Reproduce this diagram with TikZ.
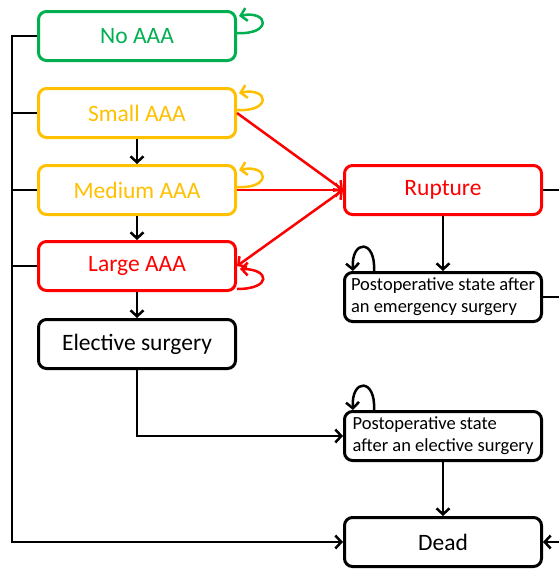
\documentclass[tikz,border=0pt]{standalone}
\usepackage{fontspec}
\setmainfont{Carlito}
\usepackage{tikz}
\usetikzlibrary{arrows.meta, positioning, calc}
\definecolor{aaagreen}{RGB}{0, 176, 80}
\definecolor{aaayellow}{RGB}{255, 192, 0}
\definecolor{aaared}{RGB}{255, 0, 0}

\tikzset{
  aaastate/.style={draw=#1, text=#1, rounded corners=8pt, line width=3pt,
    minimum width=197pt, minimum height=49pt, inner sep=2pt,
    font=\fontsize{23.5}{28}\selectfont},
  aaastate/.default=black,
  poststate/.style={aaastate, align=left, font=\fontsize{18.5}{22}\selectfont},
  link/.style={line width=2.5pt},
  flow/.style={link, -{Straight Barb[length=6pt, width=13pt]}},
  twoway/.style={link, {Straight Barb[length=6pt, width=13pt]}-{Straight Barb[length=6pt, width=13pt]}},
}

\begin{document}
\begin{tikzpicture}[x=1pt, y=-1pt]
  \useasboundingbox (0,0) rectangle (559,571);

  % states
  \node[aaastate=aaagreen] (noaaa) at (137,36) {No AAA};
  \node[aaastate=aaayellow] (small) at (137,113) {Small AAA};
  \node[aaastate=aaayellow] (medium) at (137,190) {Medium AAA};
  \node[aaastate=aaared] (large) at (137,266) {Large AAA};
  \node[aaastate] (elective) at (137,344) {Elective surgery};
  \node[aaastate=aaared] (rupture) at (443,190) {Rupture};
  \node[poststate] (postem) at (443,297) {Postoperative state after\\an emergency surgery};
  \node[poststate] (postel) at (443,436) {Postoperative state\\after an elective surgery};
  \node[aaastate] (dead) at (443,542) {Dead};

  \coordinate (bus) at (12,0);
  \coordinate (rim) at (559,0);

  % death from any AAA state
  \draw[flow] (noaaa.west) -- (noaaa.west -| bus) -- (dead.west -| bus) -- (dead.west);
  \foreach \s in {small, medium, large}
    \draw[link] (\s.west) -- (\s.west -| bus);

  % growth and surgery
  \draw[flow] (small) -- (medium);
  \draw[flow] (medium) -- (large);
  \draw[flow] (large) -- (elective);
  \draw[flow] (elective.south) |- (postel.west);
  \draw[flow] (rupture) -- (postem);
  \draw[flow] (postel) -- (dead);
  \draw[link] (rupture.east) -- (rupture.east -| rim);
  \draw[link] (postem.east) -- (postem.east -| rim);
  \draw[flow] (dead.east -| rim) -- (dead.east);

  % rupture
  \draw[flow, aaared] (small.east) -- (rupture.west);
  \draw[flow, aaared] (medium.east) -- (rupture.west);
  \draw[twoway, aaared] (large.east) -- (rupture.west);

  % staying in a state
  \draw[flow, aaagreen] ([yshift=3pt]noaaa.east) .. controls +(35,2) and +(30,-6) .. ([xshift=2pt, yshift=20pt]noaaa.east);
  \draw[flow, aaayellow] ([yshift=3pt]small.east) .. controls +(35,2) and +(30,-6) .. ([xshift=2pt, yshift=20pt]small.east);
  \draw[flow, aaayellow] ([yshift=3pt]medium.east) .. controls +(35,2) and +(30,-6) .. ([xshift=2pt, yshift=20pt]medium.east);
  \draw[flow, aaared] ([yshift=-23pt]large.east) .. controls +(35,0) and +(30,0) .. ([xshift=3pt, yshift=-3pt]large.east);
  \draw[flow] ([xshift=31pt]postem.north west) .. controls +(2,-32) and +(-2,-32) .. ([xshift=10pt]postem.north west);
  \draw[flow] ([xshift=31pt]postel.north west) .. controls +(2,-32) and +(-2,-32) .. ([xshift=10pt]postel.north west);
\end{tikzpicture}
\end{document}
